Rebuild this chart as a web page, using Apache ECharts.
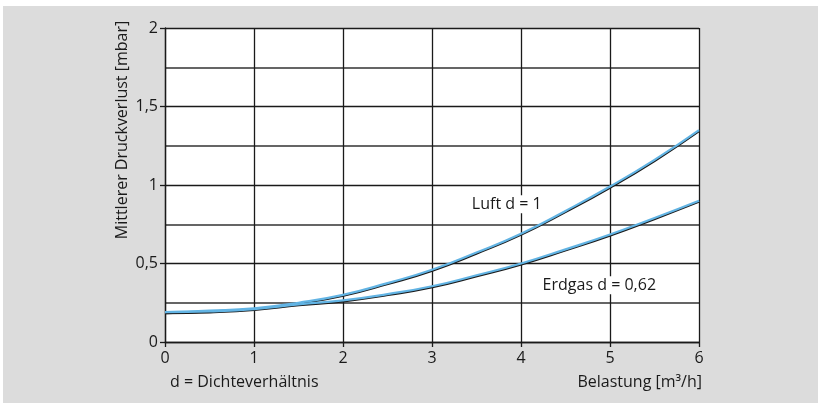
<!DOCTYPE html>
<html>
<head>
<meta charset="utf-8">
<script src="https://cdn.jsdelivr.net/npm/echarts@6/dist/echarts.min.js"></script>
<style>
html,body{margin:0;padding:0;background:#fff;}
#chart{width:818px;height:403px;}
</style>
</head>
<body>
<div id="chart"></div>
<script>
// Belastung [m3/h]
var xValues=[0,0.5,1,1.5,2,2.5,3,3.5,4,4.5,5,5.5,6];
// Druckverlust [mbar]
var luft=[0.19,0.20,0.215,0.25,0.30,0.375,0.46,0.57,0.69,0.835,0.99,1.16,1.35];
var erdgas=[0.19,0.195,0.21,0.24,0.265,0.305,0.355,0.425,0.50,0.59,0.685,0.79,0.90];
var curveLabels=[
    {name:"Luft d = 1",x:3.84,y:0.878},
    {name:"Erdgas d = 0,62",x:4.88,y:0.362}
];

var FONT="'Open Sans', sans-serif";
var chart=echarts.init(document.getElementById("chart"));

function pairs(ys){
    return xValues.map(function(x,i){return [x,ys[i]];});
}
var lineStyle={
    color:"#62b4e4",width:2.2,
    shadowColor:"#1a1a1a",shadowBlur:0,shadowOffsetX:0.4,shadowOffsetY:0.9
};

var option={
    animation:false,
    backgroundColor:"#fff",
    textStyle:{fontFamily:FONT},
    grid:{left:165,right:119,top:28,bottom:61,show:true,backgroundColor:"#fff",borderWidth:0},
    graphic:[
        {type:"rect",z:-10,shape:{x:3,y:6,width:815,height:397},style:{fill:"#dcdcdc"}},
        {type:"text",rotation:Math.PI/2,x:122,y:130,
            style:{text:"Mittlerer Druckverlust [mbar]",font:"16px "+FONT,fill:"#1a1a1a",align:"center",verticalAlign:"middle"}},
        {type:"text",x:170,y:382,
            style:{text:"d = Dichteverhältnis",font:"16px "+FONT,fill:"#1a1a1a",align:"left",verticalAlign:"middle"}},
        {type:"text",x:702,y:382,
            style:{text:"Belastung [m³/h]",font:"16px "+FONT,fill:"#1a1a1a",align:"right",verticalAlign:"middle"}}
    ],
    xAxis:{
        type:"value",min:0,max:6,interval:1,
        axisLine:{lineStyle:{color:"#1a1a1a",width:1.3}},
        axisTick:{show:true,length:5,lineStyle:{color:"#1a1a1a",width:1.3}},
        axisLabel:{color:"#1a1a1a",fontSize:16,margin:8,fontFamily:FONT},
        splitLine:{lineStyle:{color:"#1a1a1a",width:1.3}}
    },
    yAxis:{
        type:"value",min:0,max:2,interval:0.5,
        axisLine:{show:true,lineStyle:{color:"#1a1a1a",width:1.3}},
        axisTick:{show:true,length:5,lineStyle:{color:"#1a1a1a",width:1.3}},
        axisLabel:{color:"#1a1a1a",fontSize:16,margin:7,fontFamily:FONT,
            formatter:function(v){return String(v).replace(".",",");}},
        splitLine:{lineStyle:{color:"#1a1a1a",width:1.3}},
        minorTick:{show:false,splitNumber:2},
        minorSplitLine:{show:true,lineStyle:{color:"#333",width:1.5}}
    },
    series:[
        {type:"line",name:"Luft",data:pairs(luft),smooth:true,symbol:"none",lineStyle:lineStyle,z:3},
        {type:"line",name:"Erdgas",data:pairs(erdgas),smooth:true,symbol:"none",lineStyle:lineStyle,z:3},
        {type:"scatter",symbolSize:1,z:5,itemStyle:{color:"#fff",opacity:1},
            data:curveLabels.map(function(d){return {name:d.name,value:[d.x,d.y]};}),
            label:{show:true,position:"inside",formatter:"{b}",color:"#1a1a1a",fontSize:16,fontFamily:FONT,
                backgroundColor:"#fff",padding:[1,3]}
        }
    ]
};
chart.setOption(option);
</script>
</body>
</html>
